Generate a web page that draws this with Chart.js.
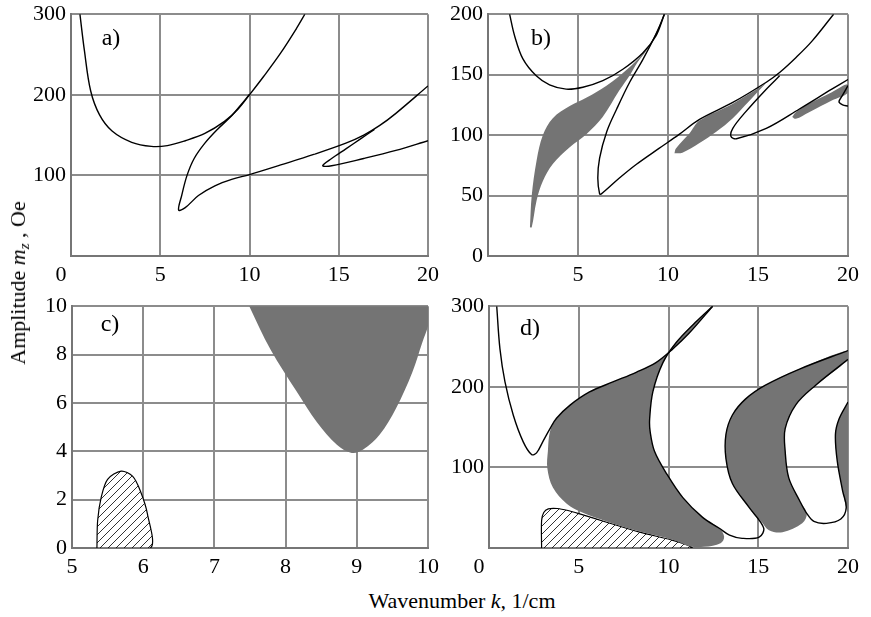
<!DOCTYPE html>
<html>
<head>
<meta charset="utf-8">
<script src="https://cdn.jsdelivr.net/npm/chart.js@4.4.0/dist/chart.umd.min.js"></script>
<style>
  body { margin: 0; background: #fff; }
  #wrap { position: relative; width: 871px; height: 617px; overflow: hidden;
          font-family: 'Liberation Serif', 'Times New Roman', serif; color: #000; }
  #wrap canvas { position: absolute; }
  .title { position: absolute; font-size: 22px; line-height: 22px; white-space: nowrap; }
  .title sub { font-size: 15px; line-height: 0; vertical-align: -4px; }
  #xtitle { left: 462px; top: 590px; transform: translateX(-50%); }
  #ytitle { left: 18px; top: 283px; transform: translate(-50%, -50%) rotate(-90deg); }
</style>
</head>
<body>
<div id="wrap">
  <canvas id="chartA" width="445" height="294" style="left:0;top:-4px"></canvas>
  <canvas id="chartB" width="445" height="294" style="left:420px;top:-4px"></canvas>
  <canvas id="chartC" width="445" height="292" style="left:0;top:288px"></canvas>
  <canvas id="chartD" width="445" height="292" style="left:420px;top:288px"></canvas>
  <div class="title" id="ytitle">Amplitude <i>m</i><sub><i>z</i></sub> , Oe</div>
  <div class="title" id="xtitle">Wavenumber <i>k,</i> 1/cm</div>
</div>

<script>
// ---- tick values / labels ----
const aXTicks = [0, 5, 10, 15, 20];
const aXLabels = ['', '5', '10', '15', '20'];
const aYTicks = [0, 100, 200, 300];
const aYLabels = ['', '100', '200', '300'];

const bXTicks = [0, 5, 10, 15, 20];
const bXLabels = ['', '5', '10', '15', '20'];
const bYTicks = [0, 50, 100, 150, 200];
const bYLabels = ['0', '50', '100', '150', '200'];

const cXTicks = [5, 6, 7, 8, 9, 10];
const cXLabels = ['5', '6', '7', '8', '9', '10'];
const cYTicks = [0, 2, 4, 6, 8, 10];
const cYLabels = ['0', '2', '4', '6', '8', '10'];

const dXTicks = [0, 5, 10, 15, 20];
const dXLabels = ['', '5', '10', '15', '20'];
const dYTicks = [0, 100, 200, 300];
const dYLabels = ['', '100', '200', '300'];

// ---- panel a) curves, [k, mz] ----
const aBowl = [[0.5,300],[0.75,255],[1.1,205],[1.6,175],[2.3,155],[3.4,141],[4.5,136],[5.4,137],[6.4,143],[7.5,152],[8.6,167],[9.35,182],[10,200],[10.8,223],[11.75,252],[12.65,283],[13.1,300]];
const aCusp = [[10,200.5],[9.5,187],[9.0,174],[8.2,157],[7.5,140],[6.9,121],[6.5,100],[6.2,75],[6.03,57],[6.4,60],[7.14,75],[8.06,87],[9.0,95],[10,101],[11.75,113],[13.6,126],[15.4,140],[16.4,150],[17.3,162],[18.2,177],[20,211]];
const aSmallCusp = [[17.0,157],[16.2,145],[15.4,133],[14.6,121],[14.1,112],[14.6,112],[16.4,121],[18.2,131],[20,143]];

// ---- panel b) ----
const bBowl = [[1.2,200],[1.48,182],[1.94,163],[2.68,149],[3.42,141.5],[4.34,138],[5.27,139.6],[6.38,145],[7.49,154.5],[8.6,168],[9.33,182],[9.8,200]];
const bCusp = [[9.8,200],[9.36,184.5],[8.6,162.4],[7.87,143.7],[7.15,121.6],[6.6,103],[6.2,81],[6.1,64.5],[6.2,51.4],[6.3,51.4],[7.3,64.5],[8.25,75.9],[9.5,89],[10.6,100.4],[11.75,113],[13.6,127],[15.46,143.7],[16.2,151.8],[17.1,164],[18.0,177.7],[19.2,200]];
const bCusp2 = [[16.2,149],[15.46,138],[14.3,119],[13.6,105.6],[13.5,98.8],[13.8,97],[15.46,105.6],[17.3,121.6],[19.1,138],[20,146]];
const bLoop = [[20,141],[19.7,133],[19.5,127.6],[19.7,125],[20,124]];
const bShade1 = [[2.33,23.7],[2.43,50],[2.7,79],[3.05,100],[3.6,114],[4.54,124],[5.48,131],[6.6,141],[7.7,154],[8.6,167.5],[9.36,183.5],[9.7,196],[9.5,190],[8.9,172],[8.3,160],[7.9,150],[7.3,137],[6.37,115],[5.48,101],[4.54,90],[3.6,76],[3.05,62],[2.7,46],[2.43,23.7],[2.33,23.7]];
const bShade2 = [[10.36,85],[10.44,89],[11.2,101.5],[11.75,112],[13.6,126],[15.46,143],[15.7,147],[14.5,128],[13.6,114],[12.7,103],[11.75,93.5],[10.8,85.5],[10.36,85]];
const bShade3 = [[16.9,115],[17.1,119],[17.7,125],[19.1,135.5],[20,142],[20,135],[19.1,128.6],[17.84,119],[17.1,113.5],[16.9,115]];

// ---- panel c) ----
const cShade = [[7.4,10.6],[7.49,10],[7.79,8.2],[8.16,6.45],[8.44,5.2],[8.72,4.27],[8.93,3.93],[9.09,4.07],[9.32,4.68],[9.55,5.77],[9.78,7.27],[9.92,8.5],[10,9.18],[10.1,10.6],[7.4,10.6]];
const cHatch = [[5.35,0],[5.36,1.13],[5.41,2.09],[5.5,2.84],[5.69,3.18],[5.85,2.97],[5.96,2.36],[6.06,1.4],[6.1,0],[5.35,0]];

// ---- panel d) ----
const dOuter = [[0.43,300],[0.61,247],[0.89,206],[1.35,165],[1.9,132],[2.37,116],[2.65,118],[3.0,132],[3.4,148],[3.76,161],[4.5,177],[5.6,193.6],[6.9,206],[8.2,218],[9.3,230],[10.24,247],[11.17,267],[12.46,300]];
const dInner1 = [[12.46,300],[11.5,280],[10.43,255],[9.69,230],[9.13,194],[8.95,160],[8.98,144],[9.22,120],[9.9,92],[10.8,62.5],[11.9,38],[12.83,24.5],[13.4,16],[14.1,12],[15.05,13.5],[15.3,25],[14.5,50],[13.56,80],[13.2,111],[13.2,141],[13.56,165],[14.3,185],[15.4,202],[17.3,222],[20,245]];
const dInner2 = [[20,234],[18.2,202],[17.1,178],[16.5,148],[16.5,120],[16.7,87],[17.3,59],[17.7,43],[18.1,33],[18.8,30.6],[19.6,36],[19.9,50],[19.7,71],[19.4,108],[19.3,141],[19.5,160],[20,181]];
const dShade1 = [[3.76,161],[4.5,177],[5.6,193.6],[6.9,206],[8.2,218],[9.3,230],[10.24,247],[11.17,267],[12.46,300],[11.5,280],[10.43,255],[9.69,230],[9.13,194],[8.95,160],[8.98,144],[9.22,120],[9.9,92],[10.8,62.5],[11.9,38],[12.83,24.5],[13.1,14],[12.9,6],[12.0,1.5],[11.2,2],[10.2,10.5],[8.4,20.5],[6.55,33],[5.2,44],[4.33,55],[3.56,75],[3.25,99],[3.28,120],[3.4,145],[3.76,161]];
const dShade2 = [[15.2,32],[14.5,50],[13.56,80],[13.2,111],[13.2,141],[13.56,165],[14.3,185],[15.4,202],[17.3,222],[20,245],[20,234],[18.2,202],[17.1,178],[16.5,148],[16.5,120],[16.7,87],[17.3,59],[17.7,43],[17.45,30.6],[16.35,19.6],[15.6,22],[15.2,32]];
const dShade3 = [[20,181],[19.5,160],[19.3,141],[19.4,108],[19.7,71],[19.9,50],[20,45],[20,181]];
const dHatch = [[2.93,0],[2.93,34],[3.05,44],[3.3,48.5],[3.8,49],[4.4,46.5],[5.1,42],[6.55,32],[8.4,19.6],[10.2,9.8],[11.0,4],[11.3,0],[2.93,0]];

// ---- styles ----
const FONT = "'Liberation Serif', 'Times New Roman', serif";
const GREY = '#747474';

// diagonal hatching
function makeHatch() {
    const c = document.createElement('canvas');
    c.width = 8; c.height = 8;
    const g = c.getContext('2d');
    g.fillStyle = '#fff';
    g.fillRect(0, 0, 8, 8);
    g.strokeStyle = '#333';
    g.lineWidth = 1;
    g.beginPath();
    g.moveTo(0, 8); g.lineTo(8, 0);
    g.moveTo(-2, 2); g.lineTo(2, -2);
    g.moveTo(6, 10); g.lineTo(10, 6);
    g.stroke();
    return g.createPattern(c, 'repeat');
}
const hatch = makeHatch();

const pts = arr => arr.map(([x, y]) => ({ x, y }));

function curve(arr) {
    return { data: pts(arr), borderColor: '#000', borderWidth: 1.4, fill: false, tension: 0.35 };
}
function shade(arr) {
    return { data: pts(arr), borderColor: 'rgba(0,0,0,0)', borderWidth: 0, backgroundColor: GREY, fill: 'shape', tension: 0.35 };
}
function hatched(arr) {
    return { data: pts(arr), borderColor: '#000', borderWidth: 1.2, backgroundColor: hatch, fill: 'shape', tension: 0.3 };
}

// panel letter and the shared corner "0"
const panelText = {
    id: 'panelText',
    afterDraw(chart, args, opts) {
        const { ctx, chartArea: a } = chart;
        ctx.save();
        ctx.fillStyle = '#000';
        ctx.textAlign = 'center';
        ctx.textBaseline = 'middle';
        ctx.font = '24px ' + FONT;
        ctx.fillText(opts.letter, a.left + opts.dx, a.top + opts.dy);
        if (opts.corner) {
            ctx.font = '22px ' + FONT;
            ctx.fillText(opts.corner, a.left - 10, a.bottom + 19);
        }
        ctx.restore();
    }
};

function axis(min, max, ticks, labels, fit, isX) {
    return {
        type: 'linear',
        min: min,
        max: max,
        afterBuildTicks: s => { s.ticks = ticks.map(v => ({ value: v })); },
        afterFit: s => { if (isX) s.height = fit; else s.width = fit; },
        grid: { color: '#8c8c8c', lineWidth: 2, drawTicks: false },
        border: { color: '#767676', width: 2 },
        ticks: {
            autoSkip: false,
            maxRotation: 0,
            padding: isX ? 6 : 5,
            color: '#000',
            font: { family: FONT, size: 22 },
            callback: (v, i) => labels[i]
        }
    };
}

function makePanel(id, datasets, p) {
    new Chart(document.getElementById(id), {
        type: 'line',
        data: { datasets: datasets },
        options: {
            responsive: false,
            animation: false,
            events: [],
            layout: { padding: { top: p.padTop, right: p.padRight, left: 0, bottom: 0 } },
            elements: { point: { radius: 0 } },
            plugins: {
                legend: { display: false },
                tooltip: { enabled: false },
                panelText: { letter: p.letter, dx: p.dx, dy: p.dy, corner: p.corner }
            },
            scales: {
                x: axis(p.xMin, p.xMax, p.xTicks, p.xLabels, p.xHeight, true),
                y: axis(p.yMin, p.yMax, p.yTicks, p.yLabels, p.yWidth, false)
            }
        },
        plugins: [panelText]
    });
}

makePanel('chartA', [curve(aBowl), curve(aCusp), curve(aSmallCusp)], {
    xMin: 0, xMax: 20, xTicks: aXTicks, xLabels: aXLabels,
    yMin: 0, yMax: 300, yTicks: aYTicks, yLabels: aYLabels,
    yWidth: 71, xHeight: 34, padTop: 15, padRight: 13,
    letter: 'a)', dx: 40, dy: 25, corner: '0'
});

makePanel('chartB', [curve(bBowl), curve(bCusp), curve(bCusp2), curve(bLoop),
                     shade(bShade1), shade(bShade2), shade(bShade3)], {
    xMin: 0, xMax: 20, xTicks: bXTicks, xLabels: bXLabels,
    yMin: 0, yMax: 200, yTicks: bYTicks, yLabels: bYLabels,
    yWidth: 68, xHeight: 34, padTop: 15, padRight: 16,
    letter: 'b)', dx: 53, dy: 25
});

makePanel('chartC', [shade(cShade), hatched(cHatch)], {
    xMin: 5, xMax: 10, xTicks: cXTicks, xLabels: cXLabels,
    yMin: 0, yMax: 10, yTicks: cYTicks, yLabels: cYLabels,
    yWidth: 72, xHeight: 32, padTop: 15, padRight: 13,
    letter: 'c)', dx: 38, dy: 19
});

makePanel('chartD', [curve(dOuter), curve(dInner1), curve(dInner2),
                     shade(dShade1), shade(dShade2), shade(dShade3), hatched(dHatch)], {
    xMin: 0, xMax: 20, xTicks: dXTicks, xLabels: dXLabels,
    yMin: 0, yMax: 300, yTicks: dYTicks, yLabels: dYLabels,
    yWidth: 69, xHeight: 32, padTop: 15, padRight: 16,
    letter: 'd)', dx: 41, dy: 23, corner: '0'
});
</script>
</body>
</html>
